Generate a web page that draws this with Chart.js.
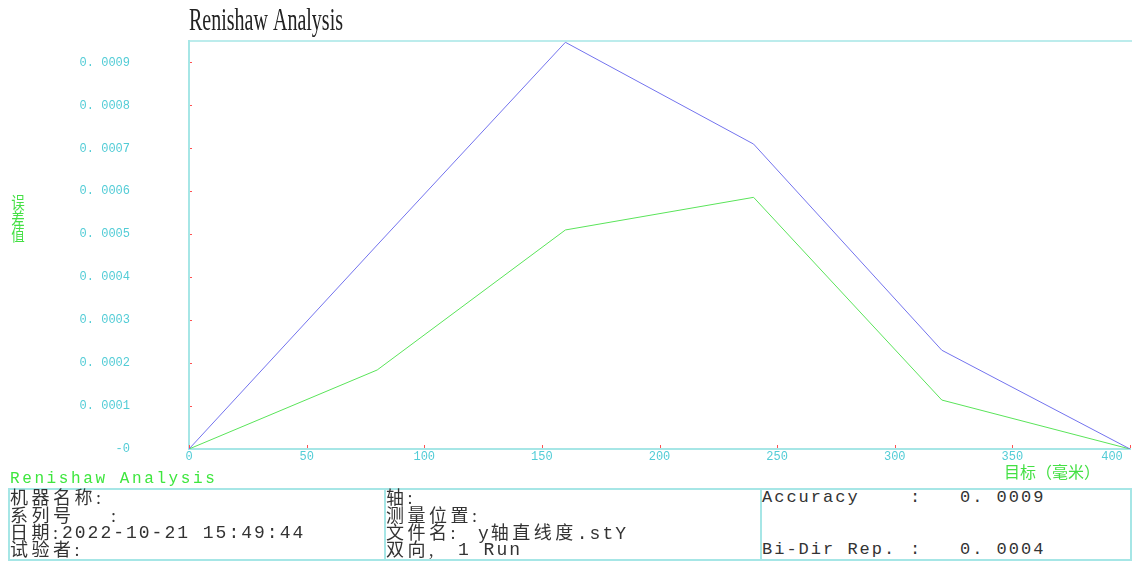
<!DOCTYPE html>
<html lang="zh">

<head>
  <meta charset="UTF-8">
  <title>Renishaw Analysis</title>
  <script src="https://cdn.jsdelivr.net/npm/chart.js@4.4.1/dist/chart.umd.min.js"></script>
  <style>
    body { margin: 0; background: #fff; width: 1132px; height: 562px; position: relative; overflow: hidden; }
    #chart { position: absolute; left: 0; top: 0; }
    .txt { position: absolute; white-space: pre; font-family: "Liberation Serif", "Noto Sans CJK SC", serif; font-size: 18px; color: #333; line-height: 18px; letter-spacing: 3.5px; }
    .mono { font-family: "Liberation Mono", "Noto Sans CJK SC", monospace; letter-spacing: 2px; }
    .box { position: absolute; border: 2px solid #a6e6e6; box-sizing: border-box; }
  </style>
</head>

<body>
  <canvas id="chart" width="1132" height="486"></canvas>

  <div class="txt mono" style="left:10px;top:471px;color:#3ee63e;font-size:16px;line-height:16px;letter-spacing:2.6px;">Renishaw Analysis</div>

  <div class="box" style="left:8px;top:488px;width:1124px;height:73px;"></div>
  <div class="box" style="left:384px;top:488px;width:378px;height:73px;"></div>

  <div class="txt" style="left:10px;top:489px;">机器名称:</div>
  <div class="txt" style="left:10px;top:507px;">系列号</div>
  <div class="txt" style="left:111px;top:507px;">:</div>
  <div class="txt" style="left:10px;top:524px;">日期:</div>
  <div class="txt mono" style="left:62px;top:524px;">2022-10-21 15:49:44</div>
  <div class="txt" style="left:10px;top:541px;">试验者:</div>

  <div class="txt" style="left:386px;top:489px;">轴:</div>
  <div class="txt" style="left:386px;top:507px;">测量位置:</div>
  <div class="txt" style="left:386px;top:524px;">文件名:</div>
  <div class="txt" style="left:478px;top:524px;"><span class="mono">y</span>轴直线度<span class="mono">.stY</span></div>
  <div class="txt" style="left:386px;top:541px;">双向,</div>
  <div class="txt mono" style="left:458px;top:541px;">1 Run</div>

  <div class="txt mono" style="left:762px;top:489px;font-size:17px;">Accuracy</div>
  <div class="txt mono" style="left:910px;top:489px;font-size:17px;">:</div>
  <div class="txt mono" style="left:960px;top:489px;font-size:17px;">0. 0009</div>
  <div class="txt mono" style="left:762px;top:541px;font-size:17px;">Bi-Dir Rep.</div>
  <div class="txt mono" style="left:910px;top:541px;font-size:17px;">:</div>
  <div class="txt mono" style="left:960px;top:541px;font-size:17px;">0. 0004</div>

  <script>
    // target positions (mm) and the two error runs
    const positions = [0, 80, 160, 240, 320, 400];
    const blueRun = [0, 0.000475, 0.000947, 0.000710, 0.000230, 0];
    const greenRun = [0, 0.000184, 0.000510, 0.000586, 0.000114, 0];

    const xTicks = [0, 50, 100, 150, 200, 250, 300, 350, 400];
    const xTickLabels = ['0', '50', '100', '150', '200', '250', '300', '350', '400     '];
    const yTicks = [0, 0.0001, 0.0002, 0.0003, 0.0004, 0.0005, 0.0006, 0.0007, 0.0008, 0.0009];
    const yTickLabels = ['-0', '0. 0001', '0. 0002', '0. 0003', '0. 0004', '0. 0005', '0. 0006', '0. 0007', '0. 0008', '0. 0009'];

    const chartTitle = 'Renishaw Analysis';
    const yTitle = ['误', '差', '值'];
    const xTitle = '目标（毫米）';

    const cyan = '#a6e6e6';
    const tickCyan = '#52ccd6';

    const pairs = (xs, ys) => xs.map((x, i) => ({ x: x, y: ys[i] }));

    // frame, red tick marks and the titles
    const extras = {
      id: 'extras',
      afterDraw(chart) {
        const ctx = chart.ctx;
        const a = chart.chartArea;
        const xs = chart.scales.x;
        const ys = chart.scales.y;
        ctx.save();

        ctx.strokeStyle = cyan;
        ctx.lineWidth = 1.5;
        ctx.beginPath();
        ctx.moveTo(a.left, a.top);
        ctx.lineTo(chart.width, a.top);
        ctx.stroke();

        ctx.strokeStyle = '#ff5050';
        ctx.lineWidth = 1;
        ctx.beginPath();
        yTicks.forEach(v => {
          if (v === 0) return;
          const py = Math.round(ys.getPixelForValue(v)) + 0.5;
          ctx.moveTo(a.left + 1, py);
          ctx.lineTo(a.left + 3, py);
        });
        xTicks.forEach(v => {
          const px = Math.round(xs.getPixelForValue(v)) + 0.5;
          ctx.moveTo(px, a.bottom - 1);
          ctx.lineTo(px, a.bottom - 4);
        });
        ctx.stroke();

        // condensed title
        ctx.fillStyle = '#222';
        ctx.font = '31px "Liberation Serif", serif';
        ctx.textBaseline = 'alphabetic';
        const w = ctx.measureText(chartTitle).width;
        ctx.save();
        ctx.translate(a.left, 30);
        ctx.scale(154 / w, 1);
        ctx.fillText(chartTitle, 0, 0);
        ctx.restore();

        // y title, characters stacked
        ctx.fillStyle = '#44e044';
        ctx.font = '15px "Noto Sans CJK SC"';
        ctx.textAlign = 'center';
        ctx.textBaseline = 'middle';
        yTitle.forEach((c, i) => {
          ctx.save();
          ctx.translate(18, 203 + i * 16);
          ctx.scale(0.9, 1.1);
          ctx.fillText(c, 0, 0);
          ctx.restore();
        });

        // x title
        ctx.textAlign = 'left';
        ctx.font = '16px "Noto Sans CJK SC"';
        ctx.fillText(xTitle, 1004, 472);

        ctx.restore();
      }
    };

    new Chart(document.getElementById('chart'), {
      type: 'line',
      data: {
        datasets: [
          {
            data: pairs(positions, blueRun),
            borderColor: 'rgb(115, 115, 238)',
            borderWidth: 1,
            pointRadius: 0,
            tension: 0
          },
          {
            data: pairs(positions, greenRun),
            borderColor: 'rgb(90, 228, 90)',
            borderWidth: 1,
            pointRadius: 0,
            tension: 0
          }
        ]
      },
      options: {
        responsive: false,
        animation: false,
        layout: { padding: { top: 41, right: 2, left: 0, bottom: 0 } },
        plugins: { legend: { display: false }, title: { display: false }, tooltip: { enabled: false } },
        scales: {
          x: {
            type: 'linear',
            min: 0,
            max: 400,
            afterBuildTicks: s => { s.ticks = xTicks.map(v => ({ value: v })); },
            afterFit: s => { s.height = 37; s.paddingLeft = 0; s.paddingRight = 0; },
            grid: { display: false, drawTicks: false },
            border: { color: cyan, width: 2 },
            ticks: {
              padding: 1,
              maxRotation: 0,
              autoSkip: false,
              color: tickCyan,
              font: { family: 'Liberation Mono', size: 12 },
              callback: (v, i) => xTickLabels[i]
            }
          },
          y: {
            min: 0,
            max: 0.00095,
            afterBuildTicks: s => { s.ticks = yTicks.map(v => ({ value: v })); },
            afterFit: s => { s.width = 189; s.paddingTop = 0; s.paddingBottom = 0; },
            grid: { display: false, drawTicks: false },
            border: { color: cyan, width: 2 },
            ticks: {
              padding: 59,
              autoSkip: false,
              color: tickCyan,
              font: { family: 'Liberation Mono', size: 12 },
              callback: (v, i) => yTickLabels[i]
            }
          }
        }
      },
      plugins: [extras]
    });
  </script>
</body>

</html>
